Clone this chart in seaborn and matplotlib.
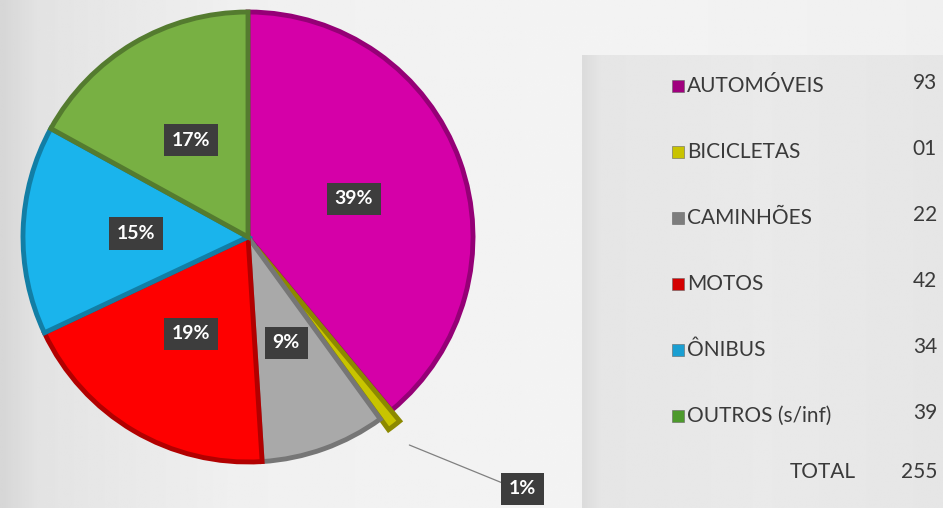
import numpy as np
import matplotlib
matplotlib.use('Agg')
import matplotlib.pyplot as plt
import seaborn as sns
from matplotlib.colors import to_rgb

# dados
categorias = ['AUTOMÓVEIS', 'BICICLETAS', 'CAMINHÕES', 'MOTOS', 'ÔNIBUS', 'OUTROS (s/inf)']
quantidades = ['93', '01', '22', '42', '34', '39']
percentuais = [39, 1, 9, 19, 15, 17]
total = '255'

cores = ['#d500a8', '#c8c400', '#a9a9a9', '#fe0000', '#1ab4ec', '#78b043']
cores_legenda = ['#a0007e', '#c9c300', '#7d7d7d', '#d40000', '#1a9fd2', '#4d9a2c']

sns.set_theme(style='white')
plt.rcParams['font.family'] = ['Lato', 'DejaVu Sans']

W, H = 943, 508
fig = plt.figure(figsize=(W / 100, H / 100), dpi=100)

# fundo em degrade (claro no meio, mais escuro a esquerda)
bg = fig.add_axes([0, 0, 1, 1])
xs = np.linspace(0, 1, 400)
tom = np.interp(xs, [0, 0.04, 0.25, 0.6, 1], [0.84, 0.89, 0.94, 0.955, 0.94])
img = np.repeat(tom[None, :], 10, axis=0)
bg.imshow(img, cmap='gray', vmin=0, vmax=1, aspect='auto', extent=[0, W, H, 0])

# painel da legenda
px = np.linspace(0, 1, 200)
tom_p = np.interp(px, [0, 0.05, 0.5, 1], [0.86, 0.9, 0.915, 0.9])
bg.imshow(np.repeat(tom_p[None, :], 10, axis=0), cmap='gray', vmin=0, vmax=1,
          aspect='auto', extent=[582, W, H, 55])
bg.set_xlim(0, W)
bg.set_ylim(H, 0)
bg.axis('off')

# pizza
cx, cy, r = 248, 237, 225
ax = fig.add_axes([(cx - r) / W, (H - cy - r) / H, 2 * r / W, 2 * r / H])
explode = [0, 0.06, 0, 0, 0, 0]
wedges, texts, autotexts = ax.pie(
    percentuais, colors=cores, startangle=90, counterclock=False, radius=1,
    explode=explode, autopct=lambda p: f'{p:.0f}%' if p >= 5 else '',
    pctdistance=0.5, wedgeprops=dict(linewidth=3.5),
    textprops=dict(color='white', fontsize=14, fontweight='bold'))
for w, c in zip(wedges, cores):
    w.set_edgecolor(tuple(v * 0.7 for v in to_rgb(c)))
    w.set_clip_on(False)
for t in autotexts:
    if t.get_text():
        t.set_bbox(dict(boxstyle='square,pad=0.4', facecolor='#3d3d3d', edgecolor='none'))
ax.set_xlim(-1, 1)
ax.set_ylim(-1, 1)
ax.set_aspect('equal')
ax.axis('off')

# rotulo externo da fatia pequena
w = wedges[1]
ang = np.deg2rad((w.theta1 + w.theta2) / 2)
ponta = (1.17 * np.cos(ang), 1.17 * np.sin(ang))
ax.annotate(f'{percentuais[1]}%', xy=ponta, xytext=(1.22, -1.12),
            ha='center', va='center', color='white', fontsize=14, fontweight='bold',
            bbox=dict(boxstyle='square,pad=0.4', facecolor='#3d3d3d', edgecolor='none'),
            arrowprops=dict(arrowstyle='-', color='#808080', lw=0.9, relpos=(0, 0.7),
                            shrinkA=0, shrinkB=0),
            annotation_clip=False)

# legenda com quantidades
lg = fig.add_axes([0, 0, 1, 1])
lg.set_xlim(0, W)
lg.set_ylim(H, 0)
lg.axis('off')
y0, passo = 86, 66
for i, (nome, qtd, cor) in enumerate(zip(categorias, quantidades, cores_legenda)):
    y = y0 + i * passo
    lg.scatter([678], [y], marker='s', s=75, color=cor, edgecolor='#666666', linewidth=0.4)
    lg.text(687, y, nome, ha='left', va='center', fontsize=15, color='#3a3a3a')
    lg.text(937, y - 3, qtd, ha='right', va='center', fontsize=15, color='#3a3a3a')
lg.text(856, 472, 'TOTAL', ha='right', va='center', fontsize=15, color='#3a3a3a')
lg.text(937, 472, total, ha='right', va='center', fontsize=15, color='#3a3a3a')

fig.savefig('out.png', dpi=100)
